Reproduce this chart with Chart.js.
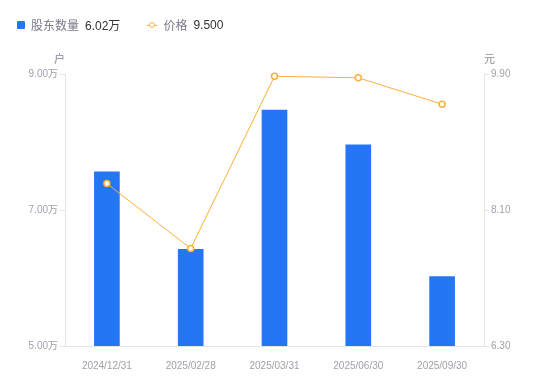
<!DOCTYPE html>
<html>
<head>
<meta charset="utf-8">
<script src="https://cdn.jsdelivr.net/npm/chart.js@4"></script>
<style>
  html, body { margin: 0; padding: 0; background: #fff; }
  #wrap { position: relative; width: 550px; height: 381px; font-family: "Liberation Sans", "Noto Sans CJK SC", sans-serif; }
  #legend { position: absolute; left: 17px; top: 16px; font-size: 12px; display: flex; align-items: center; }
  .item { display: flex; align-items: center; margin-right: 27px; }
  .sq { width: 8px; height: 8px; background: #2576f5; border-radius: 1px; margin-right: 6px; }
  .ln { position: relative; width: 10px; height: 8px; margin-right: 6px; }
  .ln::before { content: ""; position: absolute; left: 0; right: 0; top: 4px; height: 1px; background: #f8b03a; }
  .ln::after { content: ""; position: absolute; left: 2px; top: 1px; width: 4px; height: 4px; border: 1.5px solid #f8b03a; border-radius: 50%; background: #fff; }
  .name { color: #7a7a88; margin-right: 6px; }
  .val { color: #333; }
  .unit { position: absolute; font-size: 11px; color: #8a8a98; top: 50px; }
  canvas { position: absolute; left: 0; top: 0; }
</style>
</head>
<body>
<div id="wrap">
  <canvas id="c" width="550" height="381"></canvas>
  <div id="legend">
    <div class="item"><span class="sq"></span><span class="name">股东数量</span><span class="val">6.02万</span></div>
    <div class="item"><span class="ln"></span><span class="name">价格</span><span class="val">9.500</span></div>
  </div>
  <span class="unit" style="left:54px">户</span>
  <span class="unit" style="left:484px">元</span>
</div>
<script>
const dates = ['2024/12/31', '2025/02/28', '2025/03/31', '2025/06/30', '2025/09/30'];
const holders = [7.56, 6.42, 8.47, 7.96, 6.02];   // 万户
const prices = [8.45, 7.59, 9.87, 9.85, 9.50];    // 元
const holderTicks = [5, 7, 9];
const priceTicks = [6.30, 8.10, 9.90];

const axisColor = '#e3e3e8';
const tickColor = '#a0a0ae';
const tickFont = { family: '"Liberation Sans", "Noto Sans CJK SC", sans-serif', size: 10 };

new Chart(document.getElementById('c'), {
  data: {
    labels: dates,
    datasets: [
      {
        type: 'line',
        label: '价格',
        data: prices,
        yAxisID: 'yR',
        borderColor: '#f8b03a',
        borderWidth: 1,
        pointRadius: 3,
        pointBorderWidth: 1.5,
        pointBackgroundColor: '#fff',
        pointBorderColor: '#f8b03a',
        tension: 0,
        clip: false,
        order: 0
      },
      {
        type: 'bar',
        label: '股东数量',
        data: holders,
        yAxisID: 'yL',
        backgroundColor: '#2576f5',
        barThickness: 25,
        order: 1
      }
    ]
  },
  options: {
    responsive: false,
    animation: false,
    layout: { padding: { top: 74, left: 0, right: 0, bottom: 0 } },
    plugins: { legend: { display: false }, tooltip: { enabled: false } },
    scales: {
      x: {
        grid: { display: false },
        border: { display: true, color: axisColor },
        ticks: { color: tickColor, font: tickFont, padding: 6, maxRotation: 0 },
        afterFit: s => { s.height = 35; }
      },
      yL: {
        position: 'left',
        min: 5, max: 9,
        afterBuildTicks: s => { s.ticks = holderTicks.map(v => ({ value: v })); },
        ticks: { color: tickColor, font: tickFont, padding: 2, callback: v => v.toFixed(2) + '万' },
        grid: { drawOnChartArea: false, tickLength: 5, color: axisColor },
        border: { color: axisColor },
        afterFit: s => { s.width = 65; }
      },
      yR: {
        position: 'right',
        min: 6.3, max: 9.9,
        afterBuildTicks: s => { s.ticks = priceTicks.map(v => ({ value: v })); },
        ticks: { color: tickColor, font: tickFont, padding: 2, callback: v => v.toFixed(2) },
        grid: { drawOnChartArea: false, tickLength: 5, color: axisColor },
        border: { color: axisColor },
        afterFit: s => { s.width = 66; }
      }
    }
  }
});
</script>
</body>
</html>
